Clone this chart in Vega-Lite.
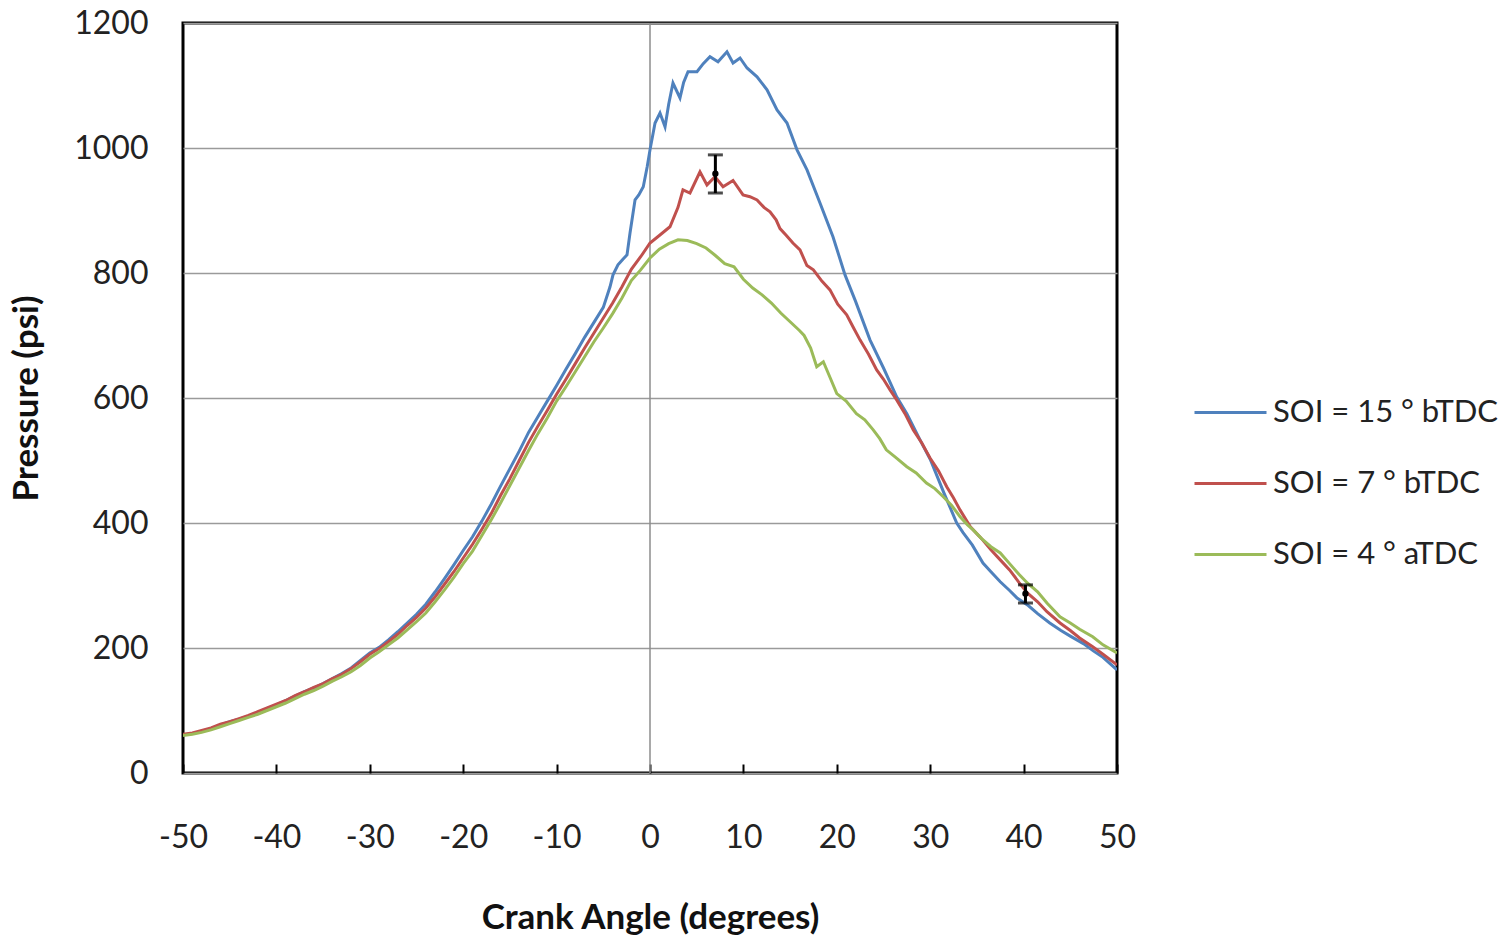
{
  "$schema": "https://vega.github.io/schema/vega-lite/v6.json",
  "width": 934,
  "height": 750,
  "autosize": {"type": "none"},
  "padding": {"left": 183, "top": 23, "right": 395, "bottom": 164},
  "background": "white",
  "datasets": {
    "curves": [
      {"series": "SOI = 15 ° bTDC", "angle": -50, "p": 61}, {"series": "SOI = 15 ° bTDC", "angle": -49, "p": 63}, {"series": "SOI = 15 ° bTDC", "angle": -48, "p": 67}, {"series": "SOI = 15 ° bTDC", "angle": -47, "p": 71}, {"series": "SOI = 15 ° bTDC", "angle": -46, "p": 77}, {"series": "SOI = 15 ° bTDC", "angle": -45, "p": 82}, {"series": "SOI = 15 ° bTDC", "angle": -44, "p": 86}, {"series": "SOI = 15 ° bTDC", "angle": -43, "p": 91}, {"series": "SOI = 15 ° bTDC", "angle": -42, "p": 97}, {"series": "SOI = 15 ° bTDC", "angle": -41, "p": 103}, {"series": "SOI = 15 ° bTDC", "angle": -40, "p": 109}, {"series": "SOI = 15 ° bTDC", "angle": -39, "p": 116}, {"series": "SOI = 15 ° bTDC", "angle": -38, "p": 123}, {"series": "SOI = 15 ° bTDC", "angle": -37, "p": 130}, {"series": "SOI = 15 ° bTDC", "angle": -36, "p": 136}, {"series": "SOI = 15 ° bTDC", "angle": -35, "p": 143}, {"series": "SOI = 15 ° bTDC", "angle": -34, "p": 151}, {"series": "SOI = 15 ° bTDC", "angle": -33, "p": 159}, {"series": "SOI = 15 ° bTDC", "angle": -32, "p": 168}, {"series": "SOI = 15 ° bTDC", "angle": -31, "p": 180}, {"series": "SOI = 15 ° bTDC", "angle": -30, "p": 192}, {"series": "SOI = 15 ° bTDC", "angle": -29, "p": 201}, {"series": "SOI = 15 ° bTDC", "angle": -28, "p": 213}, {"series": "SOI = 15 ° bTDC", "angle": -27, "p": 226}, {"series": "SOI = 15 ° bTDC", "angle": -26, "p": 240}, {"series": "SOI = 15 ° bTDC", "angle": -25, "p": 254}, {"series": "SOI = 15 ° bTDC", "angle": -24, "p": 270}, {"series": "SOI = 15 ° bTDC", "angle": -23, "p": 290}, {"series": "SOI = 15 ° bTDC", "angle": -22, "p": 311}, {"series": "SOI = 15 ° bTDC", "angle": -21, "p": 333}, {"series": "SOI = 15 ° bTDC", "angle": -20, "p": 356}, {"series": "SOI = 15 ° bTDC", "angle": -19, "p": 378}, {"series": "SOI = 15 ° bTDC", "angle": -18, "p": 403}, {"series": "SOI = 15 ° bTDC", "angle": -17, "p": 430}, {"series": "SOI = 15 ° bTDC", "angle": -16, "p": 459}, {"series": "SOI = 15 ° bTDC", "angle": -15, "p": 487}, {"series": "SOI = 15 ° bTDC", "angle": -14, "p": 515}, {"series": "SOI = 15 ° bTDC", "angle": -13, "p": 545}, {"series": "SOI = 15 ° bTDC", "angle": -12, "p": 570}, {"series": "SOI = 15 ° bTDC", "angle": -11, "p": 595}, {"series": "SOI = 15 ° bTDC", "angle": -10, "p": 620}, {"series": "SOI = 15 ° bTDC", "angle": -9, "p": 646}, {"series": "SOI = 15 ° bTDC", "angle": -8, "p": 671}, {"series": "SOI = 15 ° bTDC", "angle": -7, "p": 697}, {"series": "SOI = 15 ° bTDC", "angle": -6, "p": 721}, {"series": "SOI = 15 ° bTDC", "angle": -5, "p": 745}, {"series": "SOI = 15 ° bTDC", "angle": -4.28, "p": 778}, {"series": "SOI = 15 ° bTDC", "angle": -3.96, "p": 797}, {"series": "SOI = 15 ° bTDC", "angle": -3.43, "p": 813}, {"series": "SOI = 15 ° bTDC", "angle": -2.9, "p": 822}, {"series": "SOI = 15 ° bTDC", "angle": -2.46, "p": 829}, {"series": "SOI = 15 ° bTDC", "angle": -2.14, "p": 864}, {"series": "SOI = 15 ° bTDC", "angle": -1.6, "p": 917}, {"series": "SOI = 15 ° bTDC", "angle": -1.2, "p": 925}, {"series": "SOI = 15 ° bTDC", "angle": -0.72, "p": 938}, {"series": "SOI = 15 ° bTDC", "angle": -0.3, "p": 970}, {"series": "SOI = 15 ° bTDC", "angle": 0, "p": 997}, {"series": "SOI = 15 ° bTDC", "angle": 0.54, "p": 1040}, {"series": "SOI = 15 ° bTDC", "angle": 1.07, "p": 1056}, {"series": "SOI = 15 ° bTDC", "angle": 1.61, "p": 1034}, {"series": "SOI = 15 ° bTDC", "angle": 2.0, "p": 1070}, {"series": "SOI = 15 ° bTDC", "angle": 2.46, "p": 1104}, {"series": "SOI = 15 ° bTDC", "angle": 3.21, "p": 1080}, {"series": "SOI = 15 ° bTDC", "angle": 3.6, "p": 1105}, {"series": "SOI = 15 ° bTDC", "angle": 4.07, "p": 1122}, {"series": "SOI = 15 ° bTDC", "angle": 5.03, "p": 1122}, {"series": "SOI = 15 ° bTDC", "angle": 5.7, "p": 1135}, {"series": "SOI = 15 ° bTDC", "angle": 6.42, "p": 1146}, {"series": "SOI = 15 ° bTDC", "angle": 7.28, "p": 1138}, {"series": "SOI = 15 ° bTDC", "angle": 8.24, "p": 1154}, {"series": "SOI = 15 ° bTDC", "angle": 8.89, "p": 1136}, {"series": "SOI = 15 ° bTDC", "angle": 9.64, "p": 1144}, {"series": "SOI = 15 ° bTDC", "angle": 10.39, "p": 1128}, {"series": "SOI = 15 ° bTDC", "angle": 11.46, "p": 1114}, {"series": "SOI = 15 ° bTDC", "angle": 12.53, "p": 1093}, {"series": "SOI = 15 ° bTDC", "angle": 13.6, "p": 1061}, {"series": "SOI = 15 ° bTDC", "angle": 14.67, "p": 1040}, {"series": "SOI = 15 ° bTDC", "angle": 15.74, "p": 997}, {"series": "SOI = 15 ° bTDC", "angle": 16.81, "p": 965}, {"series": "SOI = 15 ° bTDC", "angle": 18.2, "p": 912}, {"series": "SOI = 15 ° bTDC", "angle": 19.59, "p": 858}, {"series": "SOI = 15 ° bTDC", "angle": 20.88, "p": 797}, {"series": "SOI = 15 ° bTDC", "angle": 22, "p": 755}, {"series": "SOI = 15 ° bTDC", "angle": 23.55, "p": 693}, {"series": "SOI = 15 ° bTDC", "angle": 25, "p": 648}, {"series": "SOI = 15 ° bTDC", "angle": 26.41, "p": 602}, {"series": "SOI = 15 ° bTDC", "angle": 27.5, "p": 575}, {"series": "SOI = 15 ° bTDC", "angle": 28.91, "p": 533}, {"series": "SOI = 15 ° bTDC", "angle": 30, "p": 502}, {"series": "SOI = 15 ° bTDC", "angle": 31.5, "p": 447}, {"series": "SOI = 15 ° bTDC", "angle": 32.84, "p": 400}, {"series": "SOI = 15 ° bTDC", "angle": 33.5, "p": 385}, {"series": "SOI = 15 ° bTDC", "angle": 34.5, "p": 365}, {"series": "SOI = 15 ° bTDC", "angle": 35.65, "p": 336}, {"series": "SOI = 15 ° bTDC", "angle": 36.5, "p": 322}, {"series": "SOI = 15 ° bTDC", "angle": 37.5, "p": 306}, {"series": "SOI = 15 ° bTDC", "angle": 38.5, "p": 292}, {"series": "SOI = 15 ° bTDC", "angle": 39.3, "p": 280}, {"series": "SOI = 15 ° bTDC", "angle": 40.5, "p": 268}, {"series": "SOI = 15 ° bTDC", "angle": 41.5, "p": 255}, {"series": "SOI = 15 ° bTDC", "angle": 42.8, "p": 240}, {"series": "SOI = 15 ° bTDC", "angle": 44, "p": 228}, {"series": "SOI = 15 ° bTDC", "angle": 45, "p": 219}, {"series": "SOI = 15 ° bTDC", "angle": 46.4, "p": 207}, {"series": "SOI = 15 ° bTDC", "angle": 47.5, "p": 195}, {"series": "SOI = 15 ° bTDC", "angle": 48.5, "p": 185}, {"series": "SOI = 15 ° bTDC", "angle": 50, "p": 165},

      {"series": "SOI = 7 ° bTDC", "angle": -50, "p": 62}, {"series": "SOI = 7 ° bTDC", "angle": -49, "p": 64}, {"series": "SOI = 7 ° bTDC", "angle": -48, "p": 68}, {"series": "SOI = 7 ° bTDC", "angle": -47, "p": 72}, {"series": "SOI = 7 ° bTDC", "angle": -46, "p": 78}, {"series": "SOI = 7 ° bTDC", "angle": -45, "p": 82}, {"series": "SOI = 7 ° bTDC", "angle": -44, "p": 87}, {"series": "SOI = 7 ° bTDC", "angle": -43, "p": 92}, {"series": "SOI = 7 ° bTDC", "angle": -42, "p": 98}, {"series": "SOI = 7 ° bTDC", "angle": -41, "p": 104}, {"series": "SOI = 7 ° bTDC", "angle": -40, "p": 110}, {"series": "SOI = 7 ° bTDC", "angle": -39, "p": 116}, {"series": "SOI = 7 ° bTDC", "angle": -38, "p": 124}, {"series": "SOI = 7 ° bTDC", "angle": -37, "p": 130}, {"series": "SOI = 7 ° bTDC", "angle": -36, "p": 137}, {"series": "SOI = 7 ° bTDC", "angle": -35, "p": 143}, {"series": "SOI = 7 ° bTDC", "angle": -34, "p": 151}, {"series": "SOI = 7 ° bTDC", "angle": -33, "p": 158}, {"series": "SOI = 7 ° bTDC", "angle": -32, "p": 167}, {"series": "SOI = 7 ° bTDC", "angle": -31, "p": 178}, {"series": "SOI = 7 ° bTDC", "angle": -30, "p": 190}, {"series": "SOI = 7 ° bTDC", "angle": -29, "p": 199}, {"series": "SOI = 7 ° bTDC", "angle": -28, "p": 210}, {"series": "SOI = 7 ° bTDC", "angle": -27, "p": 222}, {"series": "SOI = 7 ° bTDC", "angle": -26, "p": 236}, {"series": "SOI = 7 ° bTDC", "angle": -25, "p": 249}, {"series": "SOI = 7 ° bTDC", "angle": -24, "p": 264}, {"series": "SOI = 7 ° bTDC", "angle": -23, "p": 282}, {"series": "SOI = 7 ° bTDC", "angle": -22, "p": 302}, {"series": "SOI = 7 ° bTDC", "angle": -21, "p": 322}, {"series": "SOI = 7 ° bTDC", "angle": -20, "p": 344}, {"series": "SOI = 7 ° bTDC", "angle": -19, "p": 366}, {"series": "SOI = 7 ° bTDC", "angle": -18, "p": 390}, {"series": "SOI = 7 ° bTDC", "angle": -17, "p": 415}, {"series": "SOI = 7 ° bTDC", "angle": -16, "p": 444}, {"series": "SOI = 7 ° bTDC", "angle": -15, "p": 471}, {"series": "SOI = 7 ° bTDC", "angle": -14, "p": 500}, {"series": "SOI = 7 ° bTDC", "angle": -13, "p": 529}, {"series": "SOI = 7 ° bTDC", "angle": -12, "p": 555}, {"series": "SOI = 7 ° bTDC", "angle": -11, "p": 580}, {"series": "SOI = 7 ° bTDC", "angle": -10, "p": 606}, {"series": "SOI = 7 ° bTDC", "angle": -9, "p": 630}, {"series": "SOI = 7 ° bTDC", "angle": -8, "p": 655}, {"series": "SOI = 7 ° bTDC", "angle": -7, "p": 680}, {"series": "SOI = 7 ° bTDC", "angle": -6, "p": 704}, {"series": "SOI = 7 ° bTDC", "angle": -5, "p": 728}, {"series": "SOI = 7 ° bTDC", "angle": -4, "p": 752}, {"series": "SOI = 7 ° bTDC", "angle": -3, "p": 778}, {"series": "SOI = 7 ° bTDC", "angle": -2, "p": 806}, {"series": "SOI = 7 ° bTDC", "angle": -1, "p": 826}, {"series": "SOI = 7 ° bTDC", "angle": 0, "p": 848}, {"series": "SOI = 7 ° bTDC", "angle": 1, "p": 860}, {"series": "SOI = 7 ° bTDC", "angle": 2.14, "p": 874}, {"series": "SOI = 7 ° bTDC", "angle": 3, "p": 905}, {"series": "SOI = 7 ° bTDC", "angle": 3.53, "p": 933}, {"series": "SOI = 7 ° bTDC", "angle": 4.28, "p": 928}, {"series": "SOI = 7 ° bTDC", "angle": 5.35, "p": 962}, {"series": "SOI = 7 ° bTDC", "angle": 6.1, "p": 941}, {"series": "SOI = 7 ° bTDC", "angle": 6.96, "p": 954}, {"series": "SOI = 7 ° bTDC", "angle": 7.82, "p": 938}, {"series": "SOI = 7 ° bTDC", "angle": 8.89, "p": 948}, {"series": "SOI = 7 ° bTDC", "angle": 9.96, "p": 925}, {"series": "SOI = 7 ° bTDC", "angle": 10.7, "p": 922}, {"series": "SOI = 7 ° bTDC", "angle": 11.46, "p": 917}, {"series": "SOI = 7 ° bTDC", "angle": 12.2, "p": 905}, {"series": "SOI = 7 ° bTDC", "angle": 12.85, "p": 898}, {"series": "SOI = 7 ° bTDC", "angle": 13.5, "p": 885}, {"series": "SOI = 7 ° bTDC", "angle": 13.92, "p": 871}, {"series": "SOI = 7 ° bTDC", "angle": 14.6, "p": 860}, {"series": "SOI = 7 ° bTDC", "angle": 15.3, "p": 848}, {"series": "SOI = 7 ° bTDC", "angle": 16.06, "p": 837}, {"series": "SOI = 7 ° bTDC", "angle": 16.8, "p": 812}, {"series": "SOI = 7 ° bTDC", "angle": 17.49, "p": 805}, {"series": "SOI = 7 ° bTDC", "angle": 18.4, "p": 787}, {"series": "SOI = 7 ° bTDC", "angle": 19.27, "p": 773}, {"series": "SOI = 7 ° bTDC", "angle": 20.1, "p": 750}, {"series": "SOI = 7 ° bTDC", "angle": 21.06, "p": 733}, {"series": "SOI = 7 ° bTDC", "angle": 21.8, "p": 712}, {"series": "SOI = 7 ° bTDC", "angle": 22.48, "p": 693}, {"series": "SOI = 7 ° bTDC", "angle": 23.4, "p": 670}, {"series": "SOI = 7 ° bTDC", "angle": 24.27, "p": 645}, {"series": "SOI = 7 ° bTDC", "angle": 25, "p": 630}, {"series": "SOI = 7 ° bTDC", "angle": 25.7, "p": 613}, {"series": "SOI = 7 ° bTDC", "angle": 26.41, "p": 597}, {"series": "SOI = 7 ° bTDC", "angle": 27.3, "p": 575}, {"series": "SOI = 7 ° bTDC", "angle": 28.19, "p": 549}, {"series": "SOI = 7 ° bTDC", "angle": 29.1, "p": 528}, {"series": "SOI = 7 ° bTDC", "angle": 29.98, "p": 504}, {"series": "SOI = 7 ° bTDC", "angle": 30.9, "p": 483}, {"series": "SOI = 7 ° bTDC", "angle": 31.77, "p": 458}, {"series": "SOI = 7 ° bTDC", "angle": 32.5, "p": 440}, {"series": "SOI = 7 ° bTDC", "angle": 33.19, "p": 421}, {"series": "SOI = 7 ° bTDC", "angle": 34.3, "p": 394}, {"series": "SOI = 7 ° bTDC", "angle": 35.5, "p": 375}, {"series": "SOI = 7 ° bTDC", "angle": 36.5, "p": 357}, {"series": "SOI = 7 ° bTDC", "angle": 37.5, "p": 341}, {"series": "SOI = 7 ° bTDC", "angle": 38.5, "p": 325}, {"series": "SOI = 7 ° bTDC", "angle": 39.5, "p": 305}, {"series": "SOI = 7 ° bTDC", "angle": 40.4, "p": 288}, {"series": "SOI = 7 ° bTDC", "angle": 41.5, "p": 274}, {"series": "SOI = 7 ° bTDC", "angle": 42.5, "p": 258}, {"series": "SOI = 7 ° bTDC", "angle": 43.9, "p": 240}, {"series": "SOI = 7 ° bTDC", "angle": 45, "p": 228}, {"series": "SOI = 7 ° bTDC", "angle": 46, "p": 216}, {"series": "SOI = 7 ° bTDC", "angle": 47.4, "p": 202}, {"series": "SOI = 7 ° bTDC", "angle": 48.5, "p": 190}, {"series": "SOI = 7 ° bTDC", "angle": 50, "p": 173},

      {"series": "SOI = 4 ° aTDC", "angle": -50, "p": 60}, {"series": "SOI = 4 ° aTDC", "angle": -49, "p": 62}, {"series": "SOI = 4 ° aTDC", "angle": -48, "p": 65}, {"series": "SOI = 4 ° aTDC", "angle": -47, "p": 69}, {"series": "SOI = 4 ° aTDC", "angle": -46, "p": 74}, {"series": "SOI = 4 ° aTDC", "angle": -45, "p": 79}, {"series": "SOI = 4 ° aTDC", "angle": -44, "p": 84}, {"series": "SOI = 4 ° aTDC", "angle": -43, "p": 89}, {"series": "SOI = 4 ° aTDC", "angle": -42, "p": 94}, {"series": "SOI = 4 ° aTDC", "angle": -41, "p": 100}, {"series": "SOI = 4 ° aTDC", "angle": -40, "p": 106}, {"series": "SOI = 4 ° aTDC", "angle": -39, "p": 112}, {"series": "SOI = 4 ° aTDC", "angle": -38, "p": 119}, {"series": "SOI = 4 ° aTDC", "angle": -37, "p": 126}, {"series": "SOI = 4 ° aTDC", "angle": -36, "p": 132}, {"series": "SOI = 4 ° aTDC", "angle": -35, "p": 139}, {"series": "SOI = 4 ° aTDC", "angle": -34, "p": 147}, {"series": "SOI = 4 ° aTDC", "angle": -33, "p": 154}, {"series": "SOI = 4 ° aTDC", "angle": -32, "p": 162}, {"series": "SOI = 4 ° aTDC", "angle": -31, "p": 172}, {"series": "SOI = 4 ° aTDC", "angle": -30, "p": 184}, {"series": "SOI = 4 ° aTDC", "angle": -29, "p": 194}, {"series": "SOI = 4 ° aTDC", "angle": -28, "p": 205}, {"series": "SOI = 4 ° aTDC", "angle": -27, "p": 216}, {"series": "SOI = 4 ° aTDC", "angle": -26, "p": 229}, {"series": "SOI = 4 ° aTDC", "angle": -25, "p": 242}, {"series": "SOI = 4 ° aTDC", "angle": -24, "p": 256}, {"series": "SOI = 4 ° aTDC", "angle": -23, "p": 274}, {"series": "SOI = 4 ° aTDC", "angle": -22, "p": 293}, {"series": "SOI = 4 ° aTDC", "angle": -21, "p": 313}, {"series": "SOI = 4 ° aTDC", "angle": -20, "p": 335}, {"series": "SOI = 4 ° aTDC", "angle": -19, "p": 355}, {"series": "SOI = 4 ° aTDC", "angle": -18, "p": 380}, {"series": "SOI = 4 ° aTDC", "angle": -17, "p": 405}, {"series": "SOI = 4 ° aTDC", "angle": -16, "p": 432}, {"series": "SOI = 4 ° aTDC", "angle": -15, "p": 460}, {"series": "SOI = 4 ° aTDC", "angle": -14, "p": 488}, {"series": "SOI = 4 ° aTDC", "angle": -13, "p": 516}, {"series": "SOI = 4 ° aTDC", "angle": -12, "p": 543}, {"series": "SOI = 4 ° aTDC", "angle": -11, "p": 568}, {"series": "SOI = 4 ° aTDC", "angle": -10, "p": 595}, {"series": "SOI = 4 ° aTDC", "angle": -9, "p": 618}, {"series": "SOI = 4 ° aTDC", "angle": -8, "p": 642}, {"series": "SOI = 4 ° aTDC", "angle": -7, "p": 666}, {"series": "SOI = 4 ° aTDC", "angle": -6, "p": 690}, {"series": "SOI = 4 ° aTDC", "angle": -5, "p": 712}, {"series": "SOI = 4 ° aTDC", "angle": -4, "p": 735}, {"series": "SOI = 4 ° aTDC", "angle": -3, "p": 760}, {"series": "SOI = 4 ° aTDC", "angle": -2, "p": 788}, {"series": "SOI = 4 ° aTDC", "angle": -1, "p": 805}, {"series": "SOI = 4 ° aTDC", "angle": 0, "p": 824}, {"series": "SOI = 4 ° aTDC", "angle": 1, "p": 838}, {"series": "SOI = 4 ° aTDC", "angle": 2, "p": 847}, {"series": "SOI = 4 ° aTDC", "angle": 3, "p": 853}, {"series": "SOI = 4 ° aTDC", "angle": 4, "p": 852}, {"series": "SOI = 4 ° aTDC", "angle": 5, "p": 847}, {"series": "SOI = 4 ° aTDC", "angle": 6, "p": 840}, {"series": "SOI = 4 ° aTDC", "angle": 7, "p": 828}, {"series": "SOI = 4 ° aTDC", "angle": 8, "p": 815}, {"series": "SOI = 4 ° aTDC", "angle": 9, "p": 810}, {"series": "SOI = 4 ° aTDC", "angle": 10, "p": 790}, {"series": "SOI = 4 ° aTDC", "angle": 11, "p": 776}, {"series": "SOI = 4 ° aTDC", "angle": 12, "p": 765}, {"series": "SOI = 4 ° aTDC", "angle": 13, "p": 752}, {"series": "SOI = 4 ° aTDC", "angle": 14, "p": 736}, {"series": "SOI = 4 ° aTDC", "angle": 15, "p": 722}, {"series": "SOI = 4 ° aTDC", "angle": 16, "p": 708}, {"series": "SOI = 4 ° aTDC", "angle": 16.5, "p": 700}, {"series": "SOI = 4 ° aTDC", "angle": 17.2, "p": 680}, {"series": "SOI = 4 ° aTDC", "angle": 17.85, "p": 650}, {"series": "SOI = 4 ° aTDC", "angle": 18.56, "p": 658}, {"series": "SOI = 4 ° aTDC", "angle": 19.3, "p": 632}, {"series": "SOI = 4 ° aTDC", "angle": 20, "p": 607}, {"series": "SOI = 4 ° aTDC", "angle": 21, "p": 595}, {"series": "SOI = 4 ° aTDC", "angle": 22.1, "p": 575}, {"series": "SOI = 4 ° aTDC", "angle": 23, "p": 565}, {"series": "SOI = 4 ° aTDC", "angle": 23.9, "p": 549}, {"series": "SOI = 4 ° aTDC", "angle": 24.6, "p": 535}, {"series": "SOI = 4 ° aTDC", "angle": 25.3, "p": 517}, {"series": "SOI = 4 ° aTDC", "angle": 26.3, "p": 505}, {"series": "SOI = 4 ° aTDC", "angle": 27.5, "p": 490}, {"series": "SOI = 4 ° aTDC", "angle": 28.5, "p": 480}, {"series": "SOI = 4 ° aTDC", "angle": 29.6, "p": 464}, {"series": "SOI = 4 ° aTDC", "angle": 30.5, "p": 455}, {"series": "SOI = 4 ° aTDC", "angle": 31.4, "p": 442}, {"series": "SOI = 4 ° aTDC", "angle": 32.3, "p": 428}, {"series": "SOI = 4 ° aTDC", "angle": 33.2, "p": 410}, {"series": "SOI = 4 ° aTDC", "angle": 34, "p": 397}, {"series": "SOI = 4 ° aTDC", "angle": 34.6, "p": 389}, {"series": "SOI = 4 ° aTDC", "angle": 35.5, "p": 375}, {"series": "SOI = 4 ° aTDC", "angle": 36.5, "p": 362}, {"series": "SOI = 4 ° aTDC", "angle": 37.5, "p": 352}, {"series": "SOI = 4 ° aTDC", "angle": 38.5, "p": 335}, {"series": "SOI = 4 ° aTDC", "angle": 39.5, "p": 318}, {"series": "SOI = 4 ° aTDC", "angle": 40.4, "p": 304}, {"series": "SOI = 4 ° aTDC", "angle": 41.5, "p": 290}, {"series": "SOI = 4 ° aTDC", "angle": 42.5, "p": 272}, {"series": "SOI = 4 ° aTDC", "angle": 43.9, "p": 250}, {"series": "SOI = 4 ° aTDC", "angle": 45, "p": 240}, {"series": "SOI = 4 ° aTDC", "angle": 46, "p": 230}, {"series": "SOI = 4 ° aTDC", "angle": 47.4, "p": 218}, {"series": "SOI = 4 ° aTDC", "angle": 48.5, "p": 205}, {"series": "SOI = 4 ° aTDC", "angle": 50, "p": 192}
    ],
    "errs": [
      {"angle": 7, "mean": 959, "lo": 928, "hi": 989},
      {"angle": 40.2, "mean": 287, "lo": 272, "hi": 301}
    ],
    "zero": [{"angle": 0}]
  },
  "config": {
    "font": "Lato",
    "view": {"stroke": "black", "strokeWidth": 3},
    "axis": {"labelColor": "#222", "titleColor": "#111", "labelFontSize": 32, "titleFontSize": 35, "titleFontWeight": "bold"}
  },
  "layer": [
    {
      "data": {"name": "zero"},
      "mark": {"type": "rule", "color": "#8c8c8c", "strokeWidth": 1.5},
      "encoding": {
        "x": {"field": "angle", "type": "quantitative", "title": "Crank Angle (degrees)", "scale": {"domain": [-50, 50], "nice": false}}
      }
    },
    {
      "data": {"name": "curves"},
      "mark": {"type": "line", "strokeWidth": 3, "clip": true},
      "encoding": {
        "x": {
          "field": "angle", "type": "quantitative",
          "scale": {"domain": [-50, 50], "nice": false},
          "title": "Crank Angle (degrees)",
          "axis": {
            "values": [-50, -40, -30, -20, -10, 0, 10, 20, 30, 40, 50],
            "labelExpr": "'' + datum.value",
            "grid": false, "domain": false,
            "tickSize": -9, "tickColor": "black", "tickWidth": 2,
            "labelPadding": 58, "labelFlush": false,
            "titlePadding": 47
          }
        },
        "y": {
          "field": "p", "type": "quantitative",
          "scale": {"domain": [0, 1200], "nice": false},
          "title": "Pressure (psi)",
          "axis": {
            "values": [0, 200, 400, 600, 800, 1000, 1200],
            "format": "d",
            "grid": true, "gridColor": "#9a9a9a", "gridWidth": 1.5,
            "domain": false, "ticks": false,
            "labelPadding": 35,
            "titlePadding": 29
          }
        },
        "color": {
          "field": "series", "type": "nominal",
          "scale": {
            "domain": ["SOI = 15 ° bTDC", "SOI = 7 ° bTDC", "SOI = 4 ° aTDC"],
            "range": ["#4F81BD", "#C0504D", "#9BBB59"]
          },
          "legend": {
            "title": null, "orient": "none", "legendX": 1010, "legendY": 352,
            "symbolType": "stroke", "symbolSize": 5184, "symbolStrokeWidth": 3,
            "labelFontSize": 31, "labelColor": "#222", "labelOffset": 5, "labelLimit": 0,
            "rowPadding": 18, "padding": 0
          }
        }
      }
    },
    {
      "data": {"name": "errs"},
      "mark": {"type": "errorbar", "ticks": true, "color": "black", "thickness": 3, "size": 15},
      "encoding": {
        "x": {"field": "angle", "type": "quantitative", "title": "Crank Angle (degrees)"},
        "y": {"field": "lo", "type": "quantitative", "title": "Pressure (psi)"},
        "y2": {"field": "hi"}
      }
    },
    {
      "data": {"name": "errs"},
      "mark": {"type": "point", "filled": true, "color": "black", "size": 40, "opacity": 1},
      "encoding": {
        "x": {"field": "angle", "type": "quantitative", "title": "Crank Angle (degrees)"},
        "y": {"field": "mean", "type": "quantitative", "title": "Pressure (psi)"}
      }
    }
  ]
}
